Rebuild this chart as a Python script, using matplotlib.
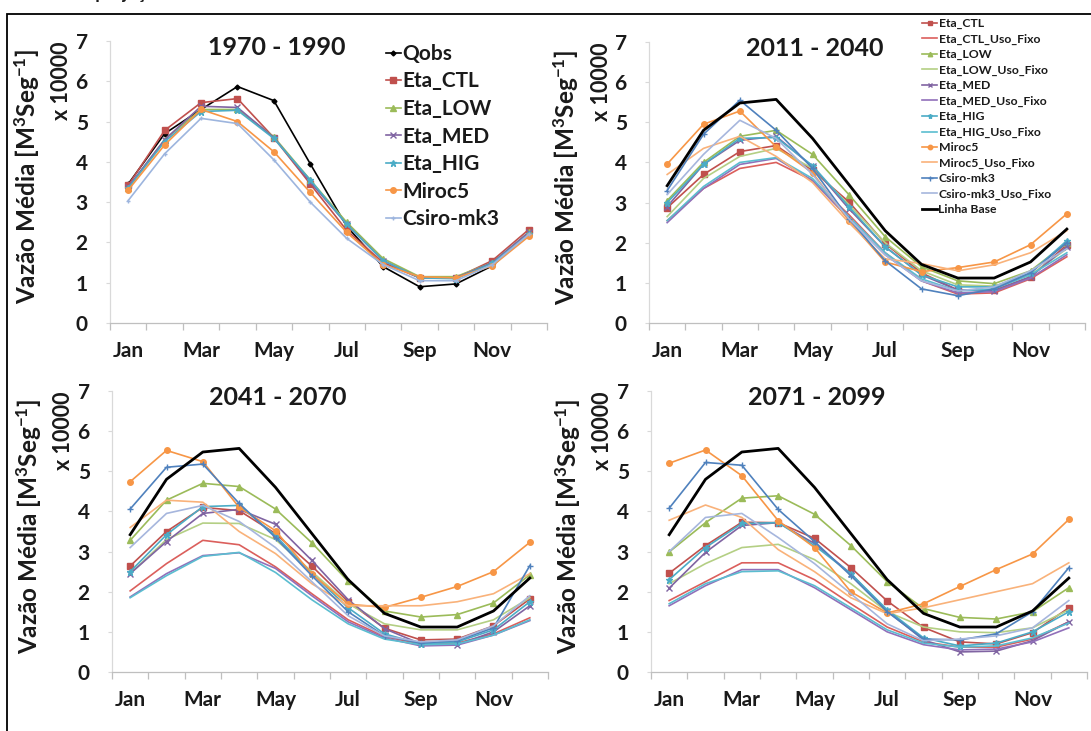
import matplotlib
matplotlib.use("Agg")
import matplotlib.pyplot as plt
from matplotlib.patches import Rectangle
import numpy as np

plt.rcParams["font.family"] = ["Lato", "DejaVu Sans"]
plt.rcParams["font.weight"] = "bold"
plt.rcParams["mathtext.fontset"] = "custom"
plt.rcParams["mathtext.rm"] = "Lato:bold"
plt.rcParams["mathtext.bf"] = "Lato:bold"
plt.rcParams["mathtext.it"] = "Lato:bold"

W, H = 1091, 731

MONTHS = ["Jan", "Feb", "Mar", "Apr", "May", "Jun",
          "Jul", "Aug", "Sep", "Oct", "Nov", "Dec"]
TICK_LABELS = ["Jan", "Mar", "May", "Jul", "Sep", "Nov"]
Y_TICKS = [0, 1, 2, 3, 4, 5, 6, 7]
PERIODS = ["1970 - 1990", "2011 - 2040", "2041 - 2070", "2071 - 2099"]

# ---- 1970 - 1990 (x 10000 m3/s)
QOBS = [3.45, 4.70, 5.30, 5.87, 5.52, 3.95, 2.40, 1.40, 0.90, 0.97, 1.42, 2.25]
CTL_1990 = [3.42, 4.78, 5.47, 5.57, 4.60, 3.45, 2.30, 1.50, 1.12, 1.12, 1.55, 2.32]
LOW_1990 = [3.35, 4.55, 5.30, 5.30, 4.62, 3.55, 2.50, 1.60, 1.15, 1.15, 1.50, 2.25]
MED_1990 = [3.38, 4.55, 5.38, 5.35, 4.60, 3.50, 2.45, 1.55, 1.12, 1.12, 1.50, 2.25]
HIG_1990 = [3.35, 4.50, 5.25, 5.28, 4.58, 3.55, 2.45, 1.55, 1.12, 1.10, 1.48, 2.20]
MIROC_1990 = [3.30, 4.42, 5.30, 5.00, 4.25, 3.24, 2.25, 1.45, 1.15, 1.12, 1.42, 2.15]
CSIRO_1990 = [3.04, 4.20, 5.08, 4.95, 4.05, 3.00, 2.10, 1.45, 1.05, 1.05, 1.45, 2.20]

LINHA_BASE = [3.42, 4.80, 5.48, 5.57, 4.60, 3.45, 2.30, 1.46, 1.12, 1.12, 1.52, 2.34]

# ---- 2011 - 2040
CTL_2040 = [2.87, 3.70, 4.27, 4.42, 3.80, 3.02, 1.98, 1.25, 0.82, 0.82, 1.15, 1.95]
CTL_FIXO_2040 = [2.55, 3.35, 3.85, 4.00, 3.55, 2.70, 1.75, 1.05, 0.72, 0.75, 1.10, 1.65]
LOW_2040 = [3.05, 4.00, 4.65, 4.80, 4.20, 3.20, 2.15, 1.40, 1.05, 0.98, 1.30, 2.00]
LOW_FIXO_2040 = [2.65, 3.60, 4.15, 4.35, 3.85, 2.95, 2.00, 1.30, 0.95, 0.92, 1.20, 1.85]
MED_2040 = [2.90, 3.95, 4.55, 4.65, 3.90, 2.85, 1.90, 1.20, 0.82, 0.80, 1.15, 1.90]
MED_FIXO_2040 = [2.50, 3.35, 3.95, 4.10, 3.55, 2.60, 1.70, 1.05, 0.75, 0.78, 1.12, 1.70]
HIG_2040 = [3.00, 3.95, 4.60, 4.62, 3.92, 2.90, 1.90, 1.20, 0.90, 0.90, 1.25, 2.05]
HIG_FIXO_2040 = [2.55, 3.40, 4.00, 4.12, 3.60, 2.65, 1.75, 1.10, 0.80, 0.85, 1.20, 1.75]
MIROC_2040 = [3.96, 4.95, 5.28, 4.39, 3.74, 2.55, 1.52, 1.28, 1.38, 1.52, 1.95, 2.72]
MIROC_FIXO_2040 = [3.70, 4.35, 4.65, 4.15, 3.50, 2.50, 1.60, 1.48, 1.30, 1.45, 1.75, 2.30]
CSIRO_2040 = [3.30, 4.70, 5.55, 4.80, 3.85, 2.60, 1.55, 0.85, 0.68, 0.85, 1.25, 2.00]
CSIRO_FIXO_2040 = [3.20, 4.20, 5.05, 4.60, 3.70, 2.60, 1.70, 1.05, 0.80, 0.90, 1.30, 1.85]

# ---- 2041 - 2070
CTL_2070 = [2.64, 3.50, 4.10, 4.02, 3.45, 2.64, 1.75, 1.09, 0.80, 0.82, 1.15, 1.82]
CTL_FIXO_2070 = [2.02, 2.70, 3.28, 3.17, 2.62, 1.95, 1.30, 0.88, 0.70, 0.72, 0.95, 1.35]
LOW_2070 = [3.28, 4.28, 4.70, 4.62, 4.06, 3.22, 2.26, 1.52, 1.37, 1.43, 1.72, 2.42]
LOW_FIXO_2070 = [2.45, 3.30, 3.71, 3.70, 3.30, 2.50, 1.70, 1.20, 1.05, 1.05, 1.30, 1.85]
MED_2070 = [2.45, 3.25, 3.95, 4.05, 3.68, 2.78, 1.80, 1.08, 0.70, 0.68, 1.00, 1.65]
MED_FIXO_2070 = [1.87, 2.45, 2.90, 2.97, 2.58, 1.90, 1.25, 0.85, 0.65, 0.67, 0.92, 1.28]
HIG_2070 = [2.50, 3.42, 4.12, 4.15, 3.40, 2.45, 1.60, 0.95, 0.70, 0.75, 1.05, 1.75]
HIG_FIXO_2070 = [1.85, 2.40, 2.88, 2.98, 2.48, 1.80, 1.20, 0.82, 0.68, 0.70, 0.92, 1.30]
MIROC_2070 = [4.74, 5.52, 5.24, 4.10, 3.52, 2.44, 1.69, 1.61, 1.86, 2.13, 2.50, 3.23]
MIROC_FIXO_2070 = [3.60, 4.28, 4.23, 3.50, 2.95, 2.20, 1.65, 1.65, 1.65, 1.75, 1.95, 2.45]
CSIRO_2070 = [4.06, 5.10, 5.18, 4.20, 3.35, 2.40, 1.50, 0.90, 0.72, 0.78, 1.10, 2.65]
CSIRO_FIXO_2070 = [3.10, 3.95, 4.15, 3.75, 3.10, 2.25, 1.40, 0.90, 0.75, 0.80, 1.15, 1.90]

# ---- 2071 - 2099
CTL_2099 = [2.46, 3.15, 3.73, 3.72, 3.33, 2.60, 1.77, 1.11, 0.75, 0.70, 0.98, 1.60]
CTL_FIXO_2099 = [1.78, 2.25, 2.72, 2.72, 2.30, 1.70, 1.12, 0.75, 0.62, 0.62, 0.82, 1.25]
LOW_2099 = [2.99, 3.72, 4.33, 4.39, 3.93, 3.15, 2.25, 1.58, 1.36, 1.32, 1.50, 2.10]
LOW_FIXO_2099 = [2.20, 2.70, 3.10, 3.18, 2.80, 2.20, 1.50, 1.12, 1.00, 0.98, 1.10, 1.55]
MED_2099 = [2.09, 2.98, 3.65, 3.72, 3.20, 2.45, 1.52, 0.80, 0.50, 0.52, 0.78, 1.25]
MED_FIXO_2099 = [1.65, 2.15, 2.55, 2.55, 2.10, 1.55, 1.00, 0.68, 0.55, 0.57, 0.75, 1.10]
HIG_2099 = [2.30, 3.10, 3.70, 3.72, 3.15, 2.45, 1.55, 0.85, 0.65, 0.72, 1.00, 1.50]
HIG_FIXO_2099 = [1.70, 2.20, 2.50, 2.52, 2.15, 1.60, 1.05, 0.72, 0.62, 0.65, 0.85, 1.22]
MIROC_2099 = [5.20, 5.53, 4.89, 3.77, 3.10, 2.00, 1.47, 1.70, 2.13, 2.55, 2.94, 3.80]
MIROC_FIXO_2099 = [3.78, 4.16, 3.85, 3.05, 2.50, 1.85, 1.45, 1.60, 1.80, 2.00, 2.20, 2.72]
CSIRO_2099 = [4.08, 5.22, 5.15, 4.05, 3.25, 2.40, 1.50, 0.82, 0.80, 0.95, 1.50, 2.60]
CSIRO_FIXO_2099 = [3.00, 3.85, 3.95, 3.35, 2.70, 1.95, 1.20, 0.78, 0.82, 0.90, 1.10, 1.78]

FUTURE_NAMES = ["Eta_CTL", "Eta_CTL_Uso_Fixo", "Eta_LOW", "Eta_LOW_Uso_Fixo",
                "Eta_MED", "Eta_MED_Uso_Fixo", "Eta_HIG", "Eta_HIG_Uso_Fixo",
                "Miroc5", "Miroc5_Uso_Fixo", "Csiro-mk3", "Csiro-mk3_Uso_Fixo",
                "Linha Base"]

STYLES = {
    "Qobs": dict(color="#000000", marker="D", markersize=2.5, linewidth=1.2),
    "Eta_CTL": dict(color="#C0504D", marker="s", markersize=4, linewidth=1.2),
    "Eta_CTL_Uso_Fixo": dict(color="#DB5F5C", linewidth=1.2),
    "Eta_LOW": dict(color="#9BBB59", marker="^", markersize=4, linewidth=1.2),
    "Eta_LOW_Uso_Fixo": dict(color="#B4CF84", linewidth=1.2),
    "Eta_MED": dict(color="#8064A2", marker="x", markersize=4, linewidth=1.2),
    "Eta_MED_Uso_Fixo": dict(color="#9170BA", linewidth=1.2),
    "Eta_HIG": dict(color="#4BACC6", marker="*", markersize=4.5, linewidth=1.2),
    "Eta_HIG_Uso_Fixo": dict(color="#5BBDD0", linewidth=1.2),
    "Miroc5": dict(color="#F79646", marker="o", markersize=4, linewidth=1.2),
    "Miroc5_Uso_Fixo": dict(color="#F9B27A", linewidth=1.2),
    "Csiro-mk3": dict(color="#4F81BD", marker="+", markersize=4.5, linewidth=1.2),
    "Csiro-mk3_Uso_Fixo": dict(color="#A6B6DD", linewidth=1.2),
    "Linha Base": dict(color="#000000", linewidth=2.0),
}

TEXT_COLOR = "#1a1a1a"


def add_px_axes(fig, left, top, right, bottom):
    return fig.add_axes([left / W, 1 - bottom / H, (right - left) / W, (bottom - top) / H])


def style_axes(ax, title, left, top):
    x = np.arange(len(MONTHS))
    ax.set_xlim(-0.5, 11.5)
    ax.set_ylim(0, 7)
    for side in ("top", "right"):
        ax.spines[side].set_visible(False)
    ax.spines["left"].set_color("#D9D9D9")
    ax.spines["bottom"].set_color("#BFBFBF")
    ax.spines["left"].set_linewidth(0.9)
    ax.spines["bottom"].set_linewidth(0.9)
    ax.set_yticks(Y_TICKS)
    ax.set_xticks(x[::2])
    ax.set_xticklabels(TICK_LABELS)
    ax.set_xticks(np.arange(-0.5, 12, 1), minor=True)
    ax.tick_params(axis="x", which="major", length=0, pad=13, labelsize=15, labelcolor=TEXT_COLOR)
    ax.tick_params(axis="x", which="minor", length=5, color="#BFBFBF", width=0.9)
    ax.tick_params(axis="y", length=3, color="#D9D9D9", pad=13, labelsize=15, labelcolor=TEXT_COLOR)
    ax.text(0.381, 0.976, title, transform=ax.transAxes, ha="center", va="center",
            fontsize=18, fontweight="bold", color=TEXT_COLOR)
    fig = ax.figure
    fig.text((left - 83) / W, 1 - (top + 135) / H, r"Vazão Média [M$^{3}$Seg$^{-1}$]",
             rotation=90, ha="center", va="center", fontsize=17.5, color=TEXT_COLOR)
    fig.text((left - 48) / W, 1 - (top + 40) / H, "x 10000",
             rotation=90, ha="center", va="center", fontsize=15.5, color=TEXT_COLOR)


def plot_series(ax, names, series_list, overrides=None):
    x = np.arange(len(MONTHS))
    overrides = overrides or {}
    for name, vals in zip(names, series_list):
        style = dict(STYLES[name])
        style.update(overrides.get(name, {}))
        ax.plot(x, vals, label=name, **style)


fig = plt.figure(figsize=(W / 100, H / 100), dpi=100)

# frame and the caption cut off at the top edge
fig.patches.append(Rectangle((7 / W, -0.05), 1.1, 1.05 - 14 / H, transform=fig.transFigure,
                             fill=False, edgecolor="black", linewidth=1.3))
fig.text(4 / W, 1 + 1 / H, "Cenário de projeções em vazões médias de diferentes modelos climáticos",
         ha="left", va="baseline", fontsize=13, fontweight="bold", color=TEXT_COLOR)

# ---- panel 1: 1970 - 1990
L1, T1, R1, B1 = 110, 41, 547, 323
ax1 = add_px_axes(fig, L1, T1, R1, B1)
names_1990 = ["Qobs", "Eta_CTL", "Eta_LOW", "Eta_MED", "Eta_HIG", "Miroc5", "Csiro-mk3"]
plot_series(ax1, names_1990,
            [QOBS, CTL_1990, LOW_1990, MED_1990, HIG_1990, MIROC_1990, CSIRO_1990],
            overrides={"Csiro-mk3": dict(color="#9DB5DE", markersize=3)})
style_axes(ax1, PERIODS[0], L1, T1)
leg = ax1.legend(loc="upper left", bbox_to_anchor=((386 - L1) / (R1 - L1), (B1 - 44) / (B1 - T1)),
                 frameon=False, fontsize=15, handlelength=0.7, handletextpad=0.08,
                 labelspacing=0.36, borderpad=0, borderaxespad=0, numpoints=1)
for t in leg.get_texts():
    t.set_color(TEXT_COLOR)

# ---- future panels
panels = [
    (PERIODS[1], (649, 42, 1085, 323),
     [CTL_2040, CTL_FIXO_2040, LOW_2040, LOW_FIXO_2040, MED_2040, MED_FIXO_2040,
      HIG_2040, HIG_FIXO_2040, MIROC_2040, MIROC_FIXO_2040, CSIRO_2040, CSIRO_FIXO_2040,
      LINHA_BASE]),
    (PERIODS[2], (112, 391, 548, 672),
     [CTL_2070, CTL_FIXO_2070, LOW_2070, LOW_FIXO_2070, MED_2070, MED_FIXO_2070,
      HIG_2070, HIG_FIXO_2070, MIROC_2070, MIROC_FIXO_2070, CSIRO_2070, CSIRO_FIXO_2070,
      LINHA_BASE]),
    (PERIODS[3], (651, 391, 1087, 672),
     [CTL_2099, CTL_FIXO_2099, LOW_2099, LOW_FIXO_2099, MED_2099, MED_FIXO_2099,
      HIG_2099, HIG_FIXO_2099, MIROC_2099, MIROC_FIXO_2099, CSIRO_2099, CSIRO_FIXO_2099,
      LINHA_BASE]),
]

for i, (title, (l, t, r, b), series) in enumerate(panels):
    ax = add_px_axes(fig, l, t, r, b)
    plot_series(ax, FUTURE_NAMES, series)
    style_axes(ax, title, l, t)
    if i == 0:
        leg = ax.legend(loc="upper left",
                        bbox_to_anchor=((922 - l) / (r - l), (b - 18) / (b - t)),
                        frameon=False, fontsize=8.8, handlelength=1.25, handletextpad=0.1,
                        labelspacing=0.36, borderpad=0, borderaxespad=0, numpoints=1,
                        markerscale=0.8)
        for txt in leg.get_texts():
            txt.set_color(TEXT_COLOR)

fig.savefig("out.png", dpi=100)
